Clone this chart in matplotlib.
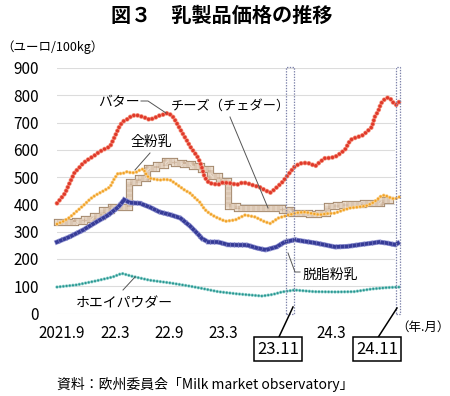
import numpy as np
import matplotlib
matplotlib.use("Agg")
import matplotlib.pyplot as plt
from matplotlib.patches import Rectangle

plt.rcParams['font.family'] = ['Noto Sans CJK JP', 'DejaVu Sans']
plt.rcParams['lines.scale_dashes'] = False

# months since 2021.9 (0 = Sep 2021)
butter_m = [0.0, 0.4, 0.9, 1.4, 2.0, 2.3, 2.9, 3.7, 4.0, 4.6, 5.1, 5.9, 6.4, 7.0, 7.4, 7.8,
            8.2, 8.7, 9.1, 9.6, 10.0, 10.3, 10.9, 11.4, 11.9, 12.3, 12.8, 13.1, 13.7, 14.1,
            14.4, 14.8, 15.1, 15.6, 15.9, 16.1, 16.4, 16.9, 17.3, 17.9, 18.4, 19.2, 20.0,
            20.6, 21.1, 21.8, 22.6, 23.1, 23.7, 24.0, 24.4, 25.0, 25.6, 26.0, 26.4, 27.0,
            27.6, 28.1, 28.7, 29.2, 29.8, 30.3, 30.9, 31.4, 32.0, 32.6, 33.2, 33.9, 34.4,
            35.0, 35.3, 35.7, 36.0, 36.4, 36.8, 37.1, 37.3, 37.7, 37.9, 38.1]
butter_v = [404, 420, 441, 478, 520, 528, 551, 570, 575, 590, 600, 612, 647, 690, 705, 712,
            722, 728, 725, 720, 715, 710, 718, 726, 730, 735, 725, 710, 675, 652,
            636, 612, 598, 575, 555, 535, 500, 478, 476, 472, 480, 478, 472,
            480, 478, 470, 462, 452, 443, 450, 462, 480, 505, 522, 538, 550,
            552, 550, 540, 555, 570, 570, 574, 585, 600, 636, 645, 652, 665,
            684, 720, 742, 770, 785, 792, 785, 775, 765, 772, 778]

wmp_m = [0.0, 0.7, 1.4, 2.2, 2.9, 3.7, 4.2, 4.8, 5.3, 5.9, 6.3, 6.8, 7.2, 7.8, 8.3, 8.9,
         9.2, 9.6, 10.0, 10.3, 10.9, 11.4, 12.0, 12.6, 13.1, 13.7, 14.2, 14.8, 15.3, 15.9,
         16.4, 16.9, 17.6, 18.7, 19.8, 20.9, 22.0, 23.1, 23.7, 24.6, 25.7, 26.8, 27.6,
         28.4, 29.2, 30.0, 30.9, 31.7, 32.6, 33.4, 34.4, 35.0, 35.6, 36.0, 36.4, 36.8,
         37.2, 37.6, 37.9, 38.1]
wmp_v = [328, 338, 352, 375, 395, 420, 432, 443, 452, 464, 490, 515, 512, 520, 515, 519,
         526, 530, 505, 496, 492, 489, 492, 489, 478, 464, 452, 441, 425, 407,
         382, 368, 354, 338, 343, 361, 354, 336, 330, 350, 361, 370, 372,
         366, 362, 366, 368, 378, 387, 390, 395, 404, 418, 430, 434, 428,
         422, 420, 425, 428]

smp_m = [0.0, 1.4, 2.9, 4.4, 5.7, 6.8, 7.3, 7.4, 8.1, 9.2, 10.3, 11.4, 12.6, 13.7, 14.8,
         15.7, 16.1, 16.8, 17.9, 19.0, 20.1, 21.1, 22.2, 23.2, 24.4, 25.3, 26.4, 27.6,
         28.8, 30.9, 32.3, 33.8, 35.0, 35.8, 36.7, 37.6, 38.1]
smp_v = [262, 281, 306, 336, 361, 390, 410, 418, 406, 404, 390, 372, 362, 350, 320,
         290, 275, 262, 262, 252, 251, 251, 240, 233, 244, 262, 270, 264,
         258, 244, 246, 253, 258, 262, 258, 252, 262]

whey_m = [0.0, 2.2, 4.4, 6.2, 7.2, 8.4, 10.3, 12.6, 14.8, 16.1, 17.9, 20.0, 22.8, 24.0,
          25.0, 26.4, 28.6, 31.0, 33.0, 35.0, 36.7, 38.1]
whey_v = [97, 105, 120, 134, 147, 136, 122, 112, 100, 92, 80, 72, 64, 70,
          79, 86, 80, 79, 80, 90, 95, 97]

# cheddar: monthly step values
cheese_m = list(range(38))
cheese_v = [336, 336, 340, 348, 358, 380, 390, 392, 482, 498, 535, 545, 560, 552, 547,
            542, 530, 505, 485, 395, 387, 387, 387, 387, 387, 379, 368, 368, 366, 370,
            395, 398, 400, 402, 404, 406, 415, 415]

xtick_m = [0, 6, 12, 18, 30]
xtick_labels = ['2021.9', '22.3', '22.9', '23.3', '24.3']
yticks = list(range(0, 901, 100))

W, H = 450, 396
fig = plt.figure(figsize=(W / 100, H / 100), dpi=100)
ax = fig.add_axes([57 / W, (H - 313.5) / H, 338 / W, 245.5 / H])
ax.set_xlim(0, 37.56)
ax.set_ylim(0, 900)

# cheddar band
ax.plot(cheese_m, cheese_v, drawstyle='steps-post', color='#a08468', lw=5.2,
        solid_joinstyle='miter', zorder=2, clip_on=False)
ax.plot(cheese_m, cheese_v, drawstyle='steps-post', color='#eadccd', lw=3.8,
        solid_joinstyle='miter', zorder=2.1, clip_on=False)
ax.plot(cheese_m, cheese_v, drawstyle='steps-post', color='#cbb097', lw=3.8,
        linestyle=(0, (0.35, 0.55)), zorder=2.2, clip_on=False)

# bead-like series: light rim, dark core
def beads(m, v, rim, core, lw, step, z, cap='round'):
    ax.plot(m, v, color=rim, lw=lw + 1.0, linestyle=(0, (0.01, step)),
            dash_capstyle=cap, zorder=z, clip_on=False)
    ax.plot(m, v, color=core, lw=lw, linestyle=(0, (0.01, step)),
            dash_capstyle=cap, zorder=z + 0.1, clip_on=False)

beads(whey_m, whey_v, '#8fd0cc', '#25958f', 1.5, 2.3, 3)
beads(smp_m, smp_v, '#9a9dd6', '#373c98', 2.6, 2.9, 3.2, cap='projecting')
beads(wmp_m, wmp_v, '#fbd08a', '#f0a126', 1.7, 2.4, 3.4)
beads(butter_m, butter_v, '#f59a86', '#e0392a', 2.5, 2.8, 3.6)

# highlighted months
for x0, w in [(25.4, 0.9), (37.62, 0.46)]:
    ax.add_patch(Rectangle((x0, 0), w, 905, fill=False, edgecolor='#7d82aa',
                           lw=0.9, linestyle=(0, (1, 1)), clip_on=False, zorder=5))

ax.set_yticks(yticks)
ax.set_yticklabels([str(t) for t in yticks], fontsize=11)
ax.set_xticks([m + 0.5 for m in xtick_m])
ax.set_xticklabels(xtick_labels, fontsize=11)
ax.tick_params(length=0, pad=8)
ax.tick_params(axis='y', pad=13)
ax.grid(axis='y', color='#dcdcdc', lw=0.8)
ax.set_axisbelow(True)
for s in ax.spines.values():
    s.set_visible(False)

def ft(px, py, s, **kw):
    fig.text(px / W, 1 - py / H, s, **kw)

def fl(xs, ys, **kw):
    fig.add_artist(plt.Line2D([x / W for x in xs], [1 - y / H for y in ys], **kw))

ft(222, 15, '図３　乳製品価格の推移', ha='center', va='center', fontsize=14.5,
   fontweight='bold')
ft(52, 47, '（ユーロ/100kg）', ha='center', va='center', fontsize=9)
ft(423, 327, '（年.月）', ha='center', va='center', fontsize=9)
ft(205, 384, '資料：欧州委員会「Milk market observatory」', ha='center', va='center',
   fontsize=10)

ft(119, 102, 'バター', ha='center', va='center', fontsize=10)
fl([141, 148, 166], [101, 101, 113], color='#555555', lw=0.7)
ft(230, 106, 'チーズ（チェダー）', ha='center', va='center', fontsize=9.5)
fl([230, 268], [117, 208], color='#555555', lw=0.7)
ft(151, 142, '全粉乳', ha='center', va='center', fontsize=10)
fl([150, 135], [153, 170], color='#555555', lw=0.7)
ft(330, 275, '脱脂粉乳', ha='center', va='center', fontsize=10)
fl([288, 295, 300], [253, 272, 272], color='#555555', lw=0.7)
ft(124, 303, 'ホエイパウダー', ha='center', va='center', fontsize=10)
fl([123, 135], [290, 277], color='#555555', lw=0.7)

# month callouts
for lx, ly, bx, by, lab in [(293, 307, 278, 339, '23.11'), (397, 308, 377, 339, '24.11')]:
    fl([lx, bx], [ly, by], color='black', lw=1.1)
    ft(bx, by + 10, lab, ha='center', va='center', fontsize=12,
       bbox=dict(boxstyle='square,pad=0.2', fc='white', ec='black', lw=1.1))

fig.savefig('out.png', dpi=100)
